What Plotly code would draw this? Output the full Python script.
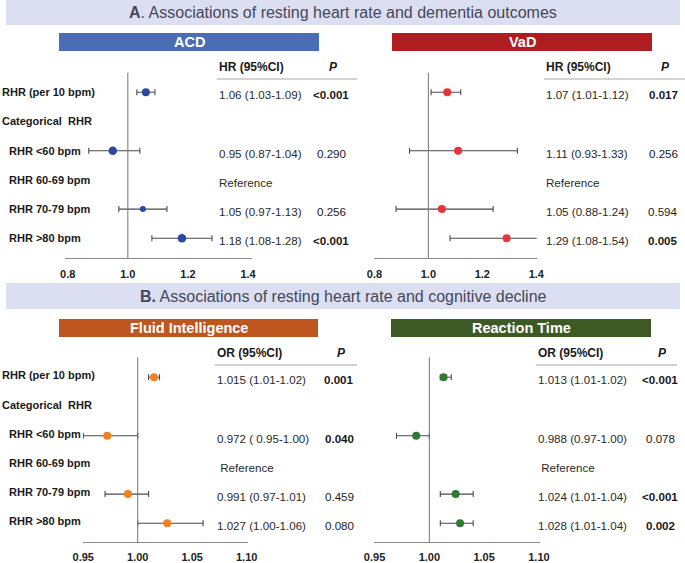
import plotly.graph_objects as go

W, H = 685, 563
FONT = "Liberation Sans, Arial, sans-serif"

# ---------------- data ----------------
row_labels = ["RHR (per 10 bpm)", "Categorical\u00a0 RHR", "RHR <60 bpm",
              "RHR 60-69 bpm", "RHR 70-79 bpm", "RHR >80 bpm"]

acd_est = [1.06, None, 0.95, None, 1.05, 1.18]
acd_lo = [1.03, None, 0.87, None, 0.97, 1.08]
acd_hi = [1.09, None, 1.04, None, 1.13, 1.28]
acd_ci = ["1.06 (1.03-1.09)", "", "0.95 (0.87-1.04)", "Reference", "1.05 (0.97-1.13)", "1.18 (1.08-1.28)"]
acd_p = ["<0.001", "", "0.290", "", "0.256", "<0.001"]

vad_est = [1.07, None, 1.11, None, 1.05, 1.29]
vad_lo = [1.01, None, 0.93, None, 0.88, 1.08]
vad_hi = [1.12, None, 1.33, None, 1.24, 1.54]
vad_ci = ["1.07 (1.01-1.12)", "", "1.11 (0.93-1.33)", "Reference", "1.05 (0.88-1.24)", "1.29 (1.08-1.54)"]
vad_p = ["0.017", "", "0.256", "", "0.594", "0.005"]

fi_est = [1.015, None, 0.972, None, 0.991, 1.027]
fi_lo = [1.01, None, 0.95, None, 0.97, 1.00]
fi_hi = [1.02, None, 1.00, None, 1.01, 1.06]
fi_ci = ["1.015 (1.01-1.02)", "", "0.972 ( 0.95-1.00)", "\u00a0Reference", "0.991 (0.97-1.01)", "1.027 (1.00-1.06)"]
fi_p = ["0.001", "", "0.040", "", "0.459", "0.080"]

rt_est = [1.013, None, 0.988, None, 1.024, 1.028]
rt_lo = [1.01, None, 0.97, None, 1.01, 1.01]
rt_hi = [1.02, None, 1.00, None, 1.04, 1.04]
rt_ci = ["1.013 (1.01-1.02)", "", "0.988 (0.97-1.00)", "\u00a0Reference", "1.024 (1.01-1.04)", "1.028 (1.01-1.04)"]
rt_p = ["<0.001", "", "0.078", "", "<0.001", "0.002"]

ticks_a = [0.8, 1.0, 1.2, 1.4]
ticks_b = [0.95, 1.00, 1.05, 1.10]

section_titles = ["<b>A</b>. Associations of resting heart rate and dementia outcomes",
                  "<b>B.</b> Associations of resting heart rate and cognitive decline"]
panel_titles = ["ACD", "VaD", "Fluid Intelligence", "Reaction Time"]


def px_x(px):
    return px / W


def px_y(py):
    return 1 - py / H


def is_sig(p):
    if not p:
        return False
    return p.startswith("<") or float(p) < 0.05


# ---------------- layout style per panel ----------------
panels = [
    dict(est=acd_est, lo=acd_lo, hi=acd_hi, ci=acd_ci, p=acd_p, title=panel_titles[0],
         bar="#4a6db3", mk="#2a48a0", sizes=[8, 0, 8.5, 0, 6, 8.5],
         xdom=(65, 251.7), ydom=(72.7, 258.3), xr=[0.791, 1.412], yr=[5.685, -0.671],
         ticks=ticks_a, fmt="{:.1f}", ticklen=5, head="HR (95%CI)", head_y=67, line_y=79,
         ci_x=217, p_x=331, line_x=(217, 357), bar_x=(59, 319), bar_y=(33, 51), labels=True),
    dict(est=vad_est, lo=vad_lo, hi=vad_hi, ci=vad_ci, p=vad_p, title=panel_titles[1],
         bar="#b01d20", mk="#e8343c", sizes=[8, 0, 8, 0, 8, 8],
         xdom=(374.3, 536.7), ydom=(72.7, 258.3), xr=[0.7995, 1.4015], yr=[5.685, -0.671],
         ticks=ticks_a, fmt="{:.1f}", ticklen=5, head="HR (95%CI)", head_y=67, line_y=79,
         ci_x=544, p_x=663, line_x=(544, 685), bar_x=(392, 652), bar_y=(33, 51), labels=False),
    dict(est=fi_est, lo=fi_lo, hi=fi_hi, ci=fi_ci, p=fi_p, title=panel_titles[2],
         bar="#c0561f", mk="#f28020", sizes=[8, 0, 8, 0, 8, 8],
         xdom=(82.7, 248.3), ydom=(357.3, 542.3), xr=[0.9495, 1.1015], yr=[5.65, -0.685],
         ticks=ticks_b, fmt="{:.2f}", ticklen=4, head="OR (95%CI)", head_y=353, line_y=365,
         ci_x=215, p_x=339, line_x=(215, 357), bar_x=(59, 318), bar_y=(319, 337), labels=True),
    dict(est=rt_est, lo=rt_lo, hi=rt_hi, ci=rt_ci, p=rt_p, title=panel_titles[3],
         bar="#3e5a24", mk="#2e7b34", sizes=[8, 0, 8, 0, 8, 8],
         xdom=(374, 539.5), ydom=(357.3, 542.3), xr=[0.9495, 1.1005], yr=[5.65, -0.685],
         ticks=ticks_b, fmt="{:.2f}", ticklen=4, head="OR (95%CI)", head_y=353, line_y=365,
         ci_x=536, p_x=660, line_x=(536, 677), bar_x=(391, 651), bar_y=(319, 337), labels=False),
]

fig = go.Figure()
shapes = []
annotations = []
layout_axes = {}

# section title bars
for title, (y0, y1) in zip(section_titles, [(0, 25), (283, 309)]):
    shapes.append(dict(type="rect", xref="paper", yref="paper",
                       x0=px_x(6), x1=px_x(680), y0=px_y(y1), y1=px_y(y0),
                       fillcolor="#dcdff1", line=dict(width=0), layer="below"))
    annotations.append(dict(text=title, xref="paper", yref="paper",
                            x=px_x(343), y=px_y((y0 + y1) / 2), xanchor="center", yanchor="middle",
                            showarrow=False, font=dict(family=FONT, size=16, color="#45475a")))

for k, pn in enumerate(panels, start=1):
    sfx = "" if k == 1 else str(k)
    xa, ya = "x" + sfx, "y" + sfx
    layout_axes["xaxis" + sfx] = dict(
        domain=[px_x(pn["xdom"][0]), px_x(pn["xdom"][1])], range=pn["xr"], anchor=ya,
        showline=True, linecolor="#8a8a8a", linewidth=1, showgrid=False, zeroline=False,
        tickvals=pn["ticks"], ticktext=[pn["fmt"].format(t) for t in pn["ticks"]],
        tickfont=dict(family=FONT, size=11, color="#222222", weight="bold"),
        ticks="outside", ticklen=pn["ticklen"], tickcolor="rgba(0,0,0,0)", fixedrange=True,
        automargin=False)
    layout_axes["yaxis" + sfx] = dict(
        domain=[px_y(pn["ydom"][1]), px_y(pn["ydom"][0])], range=pn["yr"], anchor=xa,
        visible=False, fixedrange=True, automargin=False)

    idx = [i for i, e in enumerate(pn["est"]) if e is not None]
    xs = [pn["est"][i] for i in idx]
    fig.add_trace(go.Scatter(
        x=xs, y=idx, xaxis=xa, yaxis=ya, mode="markers", showlegend=False, hoverinfo="skip",
        marker=dict(color=pn["mk"], size=[pn["sizes"][i] for i in idx], opacity=1,
                    line=dict(width=0)),
        error_x=dict(type="data", symmetric=False,
                     array=[pn["hi"][i] - pn["est"][i] for i in idx],
                     arrayminus=[pn["est"][i] - pn["lo"][i] for i in idx],
                     color="#4a4a4a", thickness=1.1, width=3)))

    # reference line at 1
    shapes.append(dict(type="line", xref=xa, yref=ya + " domain", x0=1, x1=1, y0=0, y1=1,
                       line=dict(color="#777777", width=1)))

    # panel title bar
    shapes.append(dict(type="rect", xref="paper", yref="paper",
                       x0=px_x(pn["bar_x"][0]), x1=px_x(pn["bar_x"][1]),
                       y0=px_y(pn["bar_y"][1]), y1=px_y(pn["bar_y"][0]),
                       fillcolor=pn["bar"], line=dict(width=0)))
    annotations.append(dict(text="<b>%s</b>" % pn["title"], xref="paper", yref="paper",
                            x=px_x(sum(pn["bar_x"]) / 2), y=px_y(sum(pn["bar_y"]) / 2),
                            xanchor="center", yanchor="middle", showarrow=False,
                            font=dict(family=FONT, size=14.5, color="white")))

    # table header
    annotations.append(dict(text="<b>%s</b>" % pn["head"], xref="paper", yref="paper",
                            x=px_x(pn["ci_x"]), y=px_y(pn["head_y"]), xanchor="left",
                            yanchor="middle", showarrow=False,
                            font=dict(family=FONT, size=12, color="#1a1a1a")))
    annotations.append(dict(text="<b><i>P</i></b>", xref="paper", yref="paper",
                            x=px_x(pn["p_x"] + 2), y=px_y(pn["head_y"]), xanchor="center",
                            yanchor="middle", showarrow=False,
                            font=dict(family=FONT, size=12, color="#1a1a1a")))
    shapes.append(dict(type="line", xref="paper", yref="paper",
                       x0=px_x(pn["line_x"][0]), x1=px_x(pn["line_x"][1]),
                       y0=px_y(pn["line_y"]), y1=px_y(pn["line_y"]),
                       line=dict(color="#c4c4c4", width=1.5)))

    # table values
    for i, (ci, p) in enumerate(zip(pn["ci"], pn["p"])):
        if ci:
            annotations.append(dict(text=ci, xref="paper", yref=ya, x=px_x(pn["ci_x"]), y=i,
                                    yshift=-2.5, xanchor="left", yanchor="middle", showarrow=False,
                                    font=dict(family=FONT, size=11.6, color="#2a2a2a")))
        if p:
            txt = "<b>%s</b>" % p if is_sig(p) else p
            annotations.append(dict(text=txt, xref="paper", yref=ya, x=px_x(pn["p_x"]), y=i,
                                    yshift=-2.5, xanchor="center", yanchor="middle",
                                    showarrow=False,
                                    font=dict(family=FONT, size=11.6, color="#1a1a1a")))

    # row labels
    if pn["labels"]:
        for i, lab in enumerate(row_labels):
            annotations.append(dict(text="<b>%s</b>" % lab, xref="paper", yref=ya,
                                    x=px_x(0 if i < 2 else 6.5), y=i,
                                    yshift=(0 if k == 1 else 2),
                                    xanchor="left", yanchor="middle", showarrow=False,
                                    font=dict(family=FONT, size=11, color="#1a1a1a")))

fig.update_layout(
    width=W, height=H, autosize=False,
    margin=dict(l=0, r=0, t=0, b=0, pad=0, autoexpand=False),
    paper_bgcolor="white", plot_bgcolor="rgba(0,0,0,0)",
    shapes=shapes, annotations=annotations, showlegend=False,
    **layout_axes)

fig.write_html("out.html", config={"displayModeBar": False, "responsive": False},
               post_script="document.body.style.margin='0';document.body.style.overflow='hidden';")
